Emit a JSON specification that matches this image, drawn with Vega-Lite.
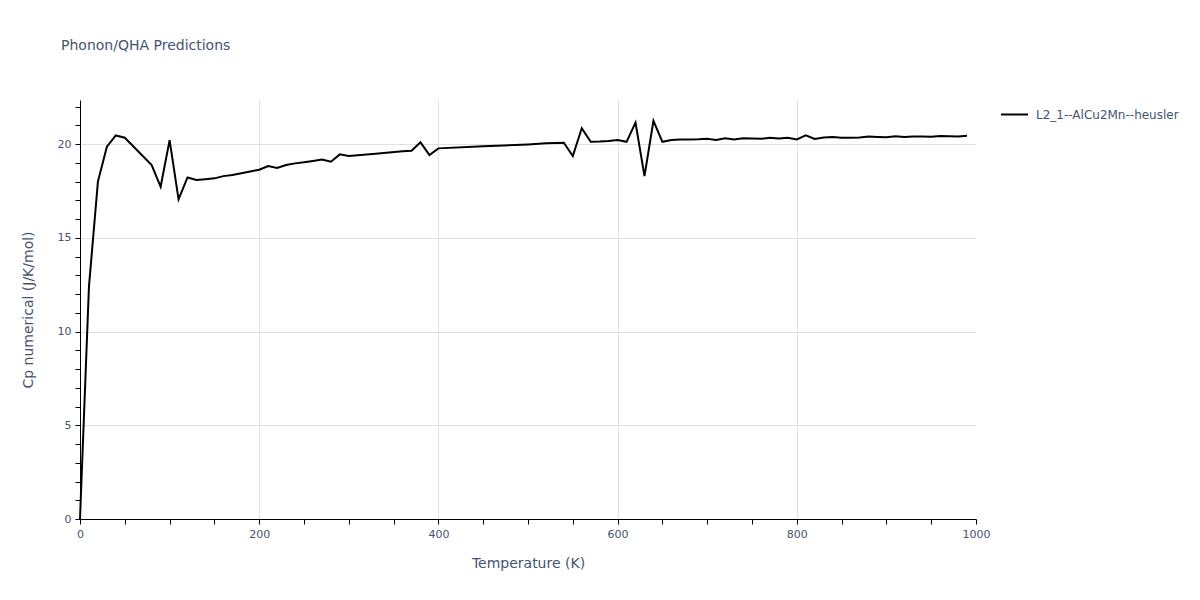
{
  "$schema": "https://vega.github.io/schema/vega-lite/v6.json",
  "width": 896,
  "height": 419,
  "autosize": {"type": "none"},
  "padding": {"left": 80, "top": 100, "right": 224, "bottom": 81},
  "background": "white",
  "title": {
    "text": "Phonon/QHA Predictions",
    "anchor": "start",
    "frame": "group",
    "dx": -19,
    "offset": 36,
    "baseline": "alphabetic",
    "font": "DejaVu Sans",
    "fontSize": 14,
    "fontWeight": "normal",
    "color": "#44546f"
  },
  "data": {
    "values": [
      {"T": 0, "Cp": 0, "series": "L2_1--AlCu2Mn--heusler"},
      {"T": 10, "Cp": 12.4, "series": "L2_1--AlCu2Mn--heusler"},
      {"T": 20, "Cp": 18.0, "series": "L2_1--AlCu2Mn--heusler"},
      {"T": 30, "Cp": 19.86, "series": "L2_1--AlCu2Mn--heusler"},
      {"T": 40, "Cp": 20.46, "series": "L2_1--AlCu2Mn--heusler"},
      {"T": 50, "Cp": 20.34, "series": "L2_1--AlCu2Mn--heusler"},
      {"T": 80, "Cp": 18.88, "series": "L2_1--AlCu2Mn--heusler"},
      {"T": 90, "Cp": 17.72, "series": "L2_1--AlCu2Mn--heusler"},
      {"T": 100, "Cp": 20.21, "series": "L2_1--AlCu2Mn--heusler"},
      {"T": 110, "Cp": 17.05, "series": "L2_1--AlCu2Mn--heusler"},
      {"T": 120, "Cp": 18.22, "series": "L2_1--AlCu2Mn--heusler"},
      {"T": 130, "Cp": 18.08, "series": "L2_1--AlCu2Mn--heusler"},
      {"T": 140, "Cp": 18.12, "series": "L2_1--AlCu2Mn--heusler"},
      {"T": 150, "Cp": 18.17, "series": "L2_1--AlCu2Mn--heusler"},
      {"T": 160, "Cp": 18.29, "series": "L2_1--AlCu2Mn--heusler"},
      {"T": 170, "Cp": 18.35, "series": "L2_1--AlCu2Mn--heusler"},
      {"T": 180, "Cp": 18.44, "series": "L2_1--AlCu2Mn--heusler"},
      {"T": 190, "Cp": 18.54, "series": "L2_1--AlCu2Mn--heusler"},
      {"T": 200, "Cp": 18.63, "series": "L2_1--AlCu2Mn--heusler"},
      {"T": 210, "Cp": 18.83, "series": "L2_1--AlCu2Mn--heusler"},
      {"T": 220, "Cp": 18.72, "series": "L2_1--AlCu2Mn--heusler"},
      {"T": 230, "Cp": 18.88, "series": "L2_1--AlCu2Mn--heusler"},
      {"T": 240, "Cp": 18.97, "series": "L2_1--AlCu2Mn--heusler"},
      {"T": 250, "Cp": 19.03, "series": "L2_1--AlCu2Mn--heusler"},
      {"T": 260, "Cp": 19.1, "series": "L2_1--AlCu2Mn--heusler"},
      {"T": 270, "Cp": 19.18, "series": "L2_1--AlCu2Mn--heusler"},
      {"T": 280, "Cp": 19.06, "series": "L2_1--AlCu2Mn--heusler"},
      {"T": 290, "Cp": 19.45, "series": "L2_1--AlCu2Mn--heusler"},
      {"T": 300, "Cp": 19.36, "series": "L2_1--AlCu2Mn--heusler"},
      {"T": 330, "Cp": 19.48, "series": "L2_1--AlCu2Mn--heusler"},
      {"T": 360, "Cp": 19.62, "series": "L2_1--AlCu2Mn--heusler"},
      {"T": 370, "Cp": 19.64, "series": "L2_1--AlCu2Mn--heusler"},
      {"T": 380, "Cp": 20.09, "series": "L2_1--AlCu2Mn--heusler"},
      {"T": 390, "Cp": 19.41, "series": "L2_1--AlCu2Mn--heusler"},
      {"T": 400, "Cp": 19.77, "series": "L2_1--AlCu2Mn--heusler"},
      {"T": 450, "Cp": 19.88, "series": "L2_1--AlCu2Mn--heusler"},
      {"T": 500, "Cp": 19.98, "series": "L2_1--AlCu2Mn--heusler"},
      {"T": 520, "Cp": 20.04, "series": "L2_1--AlCu2Mn--heusler"},
      {"T": 540, "Cp": 20.07, "series": "L2_1--AlCu2Mn--heusler"},
      {"T": 550, "Cp": 19.36, "series": "L2_1--AlCu2Mn--heusler"},
      {"T": 560, "Cp": 20.84, "series": "L2_1--AlCu2Mn--heusler"},
      {"T": 570, "Cp": 20.12, "series": "L2_1--AlCu2Mn--heusler"},
      {"T": 580, "Cp": 20.13, "series": "L2_1--AlCu2Mn--heusler"},
      {"T": 590, "Cp": 20.16, "series": "L2_1--AlCu2Mn--heusler"},
      {"T": 600, "Cp": 20.21, "series": "L2_1--AlCu2Mn--heusler"},
      {"T": 610, "Cp": 20.12, "series": "L2_1--AlCu2Mn--heusler"},
      {"T": 620, "Cp": 21.14, "series": "L2_1--AlCu2Mn--heusler"},
      {"T": 630, "Cp": 18.29, "series": "L2_1--AlCu2Mn--heusler"},
      {"T": 640, "Cp": 21.24, "series": "L2_1--AlCu2Mn--heusler"},
      {"T": 650, "Cp": 20.12, "series": "L2_1--AlCu2Mn--heusler"},
      {"T": 660, "Cp": 20.21, "series": "L2_1--AlCu2Mn--heusler"},
      {"T": 670, "Cp": 20.24, "series": "L2_1--AlCu2Mn--heusler"},
      {"T": 680, "Cp": 20.24, "series": "L2_1--AlCu2Mn--heusler"},
      {"T": 690, "Cp": 20.25, "series": "L2_1--AlCu2Mn--heusler"},
      {"T": 700, "Cp": 20.28, "series": "L2_1--AlCu2Mn--heusler"},
      {"T": 710, "Cp": 20.22, "series": "L2_1--AlCu2Mn--heusler"},
      {"T": 720, "Cp": 20.31, "series": "L2_1--AlCu2Mn--heusler"},
      {"T": 730, "Cp": 20.25, "series": "L2_1--AlCu2Mn--heusler"},
      {"T": 740, "Cp": 20.31, "series": "L2_1--AlCu2Mn--heusler"},
      {"T": 750, "Cp": 20.29, "series": "L2_1--AlCu2Mn--heusler"},
      {"T": 760, "Cp": 20.28, "series": "L2_1--AlCu2Mn--heusler"},
      {"T": 770, "Cp": 20.34, "series": "L2_1--AlCu2Mn--heusler"},
      {"T": 780, "Cp": 20.29, "series": "L2_1--AlCu2Mn--heusler"},
      {"T": 790, "Cp": 20.33, "series": "L2_1--AlCu2Mn--heusler"},
      {"T": 800, "Cp": 20.25, "series": "L2_1--AlCu2Mn--heusler"},
      {"T": 810, "Cp": 20.46, "series": "L2_1--AlCu2Mn--heusler"},
      {"T": 820, "Cp": 20.27, "series": "L2_1--AlCu2Mn--heusler"},
      {"T": 830, "Cp": 20.35, "series": "L2_1--AlCu2Mn--heusler"},
      {"T": 840, "Cp": 20.37, "series": "L2_1--AlCu2Mn--heusler"},
      {"T": 850, "Cp": 20.34, "series": "L2_1--AlCu2Mn--heusler"},
      {"T": 860, "Cp": 20.34, "series": "L2_1--AlCu2Mn--heusler"},
      {"T": 870, "Cp": 20.35, "series": "L2_1--AlCu2Mn--heusler"},
      {"T": 880, "Cp": 20.4, "series": "L2_1--AlCu2Mn--heusler"},
      {"T": 890, "Cp": 20.38, "series": "L2_1--AlCu2Mn--heusler"},
      {"T": 900, "Cp": 20.36, "series": "L2_1--AlCu2Mn--heusler"},
      {"T": 910, "Cp": 20.41, "series": "L2_1--AlCu2Mn--heusler"},
      {"T": 920, "Cp": 20.37, "series": "L2_1--AlCu2Mn--heusler"},
      {"T": 930, "Cp": 20.4, "series": "L2_1--AlCu2Mn--heusler"},
      {"T": 940, "Cp": 20.4, "series": "L2_1--AlCu2Mn--heusler"},
      {"T": 950, "Cp": 20.39, "series": "L2_1--AlCu2Mn--heusler"},
      {"T": 960, "Cp": 20.43, "series": "L2_1--AlCu2Mn--heusler"},
      {"T": 970, "Cp": 20.42, "series": "L2_1--AlCu2Mn--heusler"},
      {"T": 980, "Cp": 20.4, "series": "L2_1--AlCu2Mn--heusler"},
      {"T": 990, "Cp": 20.44, "series": "L2_1--AlCu2Mn--heusler"}
    ]
  },
  "mark": {"type": "line", "strokeWidth": 2, "interpolate": "linear"},
  "encoding": {
    "x": {
      "field": "T",
      "type": "quantitative",
      "scale": {"domain": [0, 1000], "nice": false, "zero": false},
      "axis": {
        "title": "Temperature (K)",
        "values": [0, 50, 100, 150, 200, 250, 300, 350, 400, 450, 500, 550, 600, 650, 700, 750, 800, 850, 900, 950, 1000],
        "format": "d",
        "labelExpr": "datum.value % 200 === 0 ? datum.label : ''",
        "labelOverlap": false,
        "labelFlush": false,
        "labelFont": "DejaVu Sans",
        "labelFontSize": 11,
        "labelColor": "#44546f",
        "labelPadding": 4,
        "titleFont": "DejaVu Sans",
        "titleFontSize": 14,
        "titleFontWeight": "normal",
        "titleColor": "#44546f",
        "titlePadding": 17,
        "domainColor": "black",
        "domainWidth": 1,
        "tickColor": "black",
        "tickSize": 5,
        "grid": true,
        "gridColor": "#e0e0e0",
        "gridWidth": 1,
        "gridOpacity": {"condition": {"test": "datum.value % 200 === 0 && datum.value > 0 && datum.value < 1000", "value": 1}, "value": 0}
      }
    },
    "y": {
      "field": "Cp",
      "type": "quantitative",
      "scale": {"domain": [0, 22.35], "nice": false, "zero": false},
      "axis": {
        "title": "Cp numerical (J/K/mol)",
        "values": [0, 1, 2, 3, 4, 5, 6, 7, 8, 9, 10, 11, 12, 13, 14, 15, 16, 17, 18, 19, 20, 21, 22],
        "labelExpr": "datum.value % 5 === 0 ? datum.label : ''",
        "labelOverlap": false,
        "labelFlush": false,
        "labelFont": "DejaVu Sans",
        "labelFontSize": 11,
        "labelColor": "#44546f",
        "labelPadding": 4,
        "titleFont": "DejaVu Sans",
        "titleFontSize": 14,
        "titleFontWeight": "normal",
        "titleColor": "#44546f",
        "titlePadding": 22,
        "domainColor": "black",
        "domainWidth": 1,
        "tickColor": "black",
        "tickSize": 5,
        "grid": true,
        "gridColor": "#e0e0e0",
        "gridWidth": 1,
        "gridOpacity": {"condition": {"test": "datum.value % 5 === 0 && datum.value > 0", "value": 1}, "value": 0}
      }
    },
    "color": {
      "field": "series",
      "type": "nominal",
      "scale": {"range": ["black"]},
      "legend": {
        "title": null,
        "orient": "none",
        "legendX": 920,
        "legendY": 0,
        "symbolType": "stroke",
        "symbolSize": 729,
        "symbolStrokeWidth": 2,
        "labelFont": "DejaVu Sans",
        "labelFontSize": 12,
        "labelColor": "#44546f",
        "labelOffset": 7
      }
    }
  },
  "config": {
    "view": {"stroke": null}
  }
}
